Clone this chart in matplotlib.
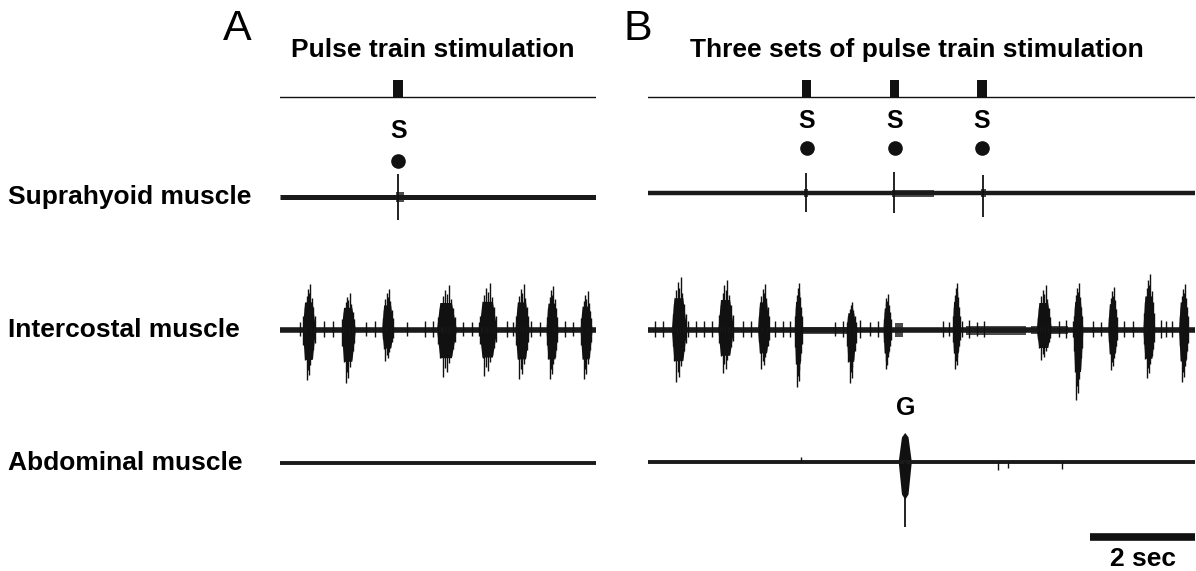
import matplotlib
matplotlib.use("Agg")
import matplotlib.pyplot as plt
from matplotlib.patches import Polygon, Rectangle

W, H = 1196, 571
PX_PER_SEC = 52.5
INK = "#111111"
plt.rcParams["font.family"] = ["Liberation Sans", "DejaVu Sans"]

# ---- data (times in s, amplitudes in px units) ----
# panel A
a_stim_t = [2.25]
a_supra_spike_t = [2.24]
a_supra_spike_up = [23]
a_supra_spike_dn = [23]
a_supra_noise = [(2.20, 2.36, 5)]
a_inter_burst_t = [0.56, 1.31, 2.06, 3.18, 3.97, 4.62, 5.19, 5.84]
a_inter_burst_up = [46, 37, 41, 45, 47, 46, 44, 39]
a_inter_burst_dn = [50, 53, 31, 47, 46, 49, 49, 49]
a_inter_burst_w = [0.25, 0.27, 0.23, 0.38, 0.34, 0.27, 0.23, 0.23]
a_heart_t = [0.38, 0.84, 1.00, 1.63, 1.80, 2.42, 2.76, 2.92, 3.49, 3.65,
             3.79, 4.32, 4.44, 4.79, 4.95, 5.43, 5.59]
a_heart_up = [8, 9, 9, 8, 9, 8, 9, 9, 8, 8, 8, 9, 8, 9, 8, 9, 8]

# panel B
b_stim_t = [3.02, 4.70, 6.36]
b_supra_spike_t = [3.00, 4.69, 6.38]
b_supra_spike_up = [20, 21, 18]
b_supra_spike_dn = [19, 20, 24]
b_supra_noise = [(2.97, 3.05, 4), (4.64, 5.45, 3.5), (6.34, 6.43, 4)]
b_inter_burst_t = [0.60, 1.49, 2.21, 2.87, 3.88, 4.56, 5.88, 7.55, 8.20, 8.86, 9.55, 10.21]
b_inter_burst_up = [53, 50, 46, 47, 28, 36, 47, 45, 47, 43, 56, 46]
b_inter_burst_dn = [52, 43, 39, 57, 53, 39, 39, 30, 70, 40, 48, 52]
b_inter_burst_w = [0.29, 0.30, 0.23, 0.15, 0.19, 0.15, 0.15, 0.29, 0.19, 0.19, 0.23, 0.19]
b_inter_noise = [(2.95, 3.80, 3.5), (4.70, 4.86, 7), (6.05, 7.20, 4.5), (7.30, 8.00, 4)]
b_heart_t = [0.13, 0.29, 0.77, 0.91, 1.07, 1.21, 1.81, 1.96, 2.42, 2.57, 2.70,
             3.56, 3.72, 4.04, 4.23, 4.39, 5.61, 5.73, 5.99, 6.11, 6.27, 6.40,
             7.83, 7.96, 8.09, 8.47, 8.62, 9.07, 9.23, 9.77, 9.87, 9.99]
b_heart_up = [9, 9, 9, 9, 9, 9, 9, 9, 9, 9, 9,
              8, 9, 10, 8, 9, 9, 8, 9, 10, 8, 9,
              9, 10, 9, 9, 8, 9, 9, 10, 9, 9]
b_abd_burst_t = [4.90]
b_abd_burst_up = [29]
b_abd_burst_dn = [65]
b_abd_burst_w = [0.25]
b_abd_tick_t = [2.91, 6.67, 6.86, 7.89]
b_abd_tick_amp = [5, -8, -6, -7]

trace_labels = ["Suprahyoid muscle", "Intercostal muscle", "Abdominal muscle"]

# ---- layout (pixel positions) ----
A_LEFT, A_RIGHT = 280, 596
B_LEFT, B_RIGHT = 648, 1195
STIM_Y = 96.7
A_SUPRA, B_SUPRA = 197, 193
INTER_Y = 330
A_ABD, B_ABD = 463, 462

# spike pattern inside a burst (relative position, relative heights)
PAT_X = [-0.45, -0.33, -0.22, -0.12, -0.02, 0.08, 0.18, 0.29, 0.4]
PAT_UP = [0.3, 0.5, 0.75, 0.9, 0.8, 1.0, 0.7, 0.5, 0.3]
PAT_DN = [0.3, 0.6, 1.0, 0.8, 0.9, 0.7, 0.55, 0.4, 0.25]


def fx(px):
    return px / W


def fy(py):
    return 1 - py / H


def burst(ax, base, t, w, up, dn, core=0.6):
    pts = [(t - w / 2, base), (t - w / 3, base - core * up), (t + w / 4, base - core * up),
           (t + w / 2, base), (t + w / 4, base + core * dn), (t - w / 3, base + core * dn)]
    ax.add_patch(Polygon(pts, closed=True, color=INK, lw=0))
    for px_, pu, pd in zip(PAT_X, PAT_UP, PAT_DN):
        ax.vlines(t + px_ * w, base - pu * up, base + pd * dn, color=INK, lw=1.0)


def trace(ax, base, dur, lw, noise=(), hearts=(), heart_up=()):
    ax.hlines(base, 0, dur, color="#1a1a1a", lw=lw)
    for t0, t1, h in noise:
        ax.fill_between([t0, t1], base - h, base + h, color=INK, alpha=0.75, lw=0)
    for t, a in zip(hearts, heart_up):
        ax.vlines(t, base - a, base + a * 0.8, color=INK, lw=1.0)


fig = plt.figure(figsize=(W / 100, H / 100), dpi=100)
axA = fig.add_axes([fx(A_LEFT), 0, fx(A_RIGHT - A_LEFT), 1])
axB = fig.add_axes([fx(B_LEFT), 0, fx(B_RIGHT - B_LEFT), 1])
durA = (A_RIGHT - A_LEFT) / PX_PER_SEC
durB = (B_RIGHT - B_LEFT) / PX_PER_SEC
for ax, dur in ((axA, durA), (axB, durB)):
    ax.set_xlim(0, dur)
    ax.set_ylim(H, 0)
    ax.axis("off")

# stimulation lines
for ax, dur, stims in ((axA, durA, a_stim_t), (axB, durB, b_stim_t)):
    ax.hlines(STIM_Y, -0.04, dur, color=INK, lw=1.0)
    for t in stims:
        ax.add_patch(Rectangle((t - 0.09, STIM_Y - 17), 0.18, 17, color=INK, lw=0))

# suprahyoid
trace(axA, A_SUPRA, durA, 3.6, a_supra_noise)
for t, u, d in zip(a_supra_spike_t, a_supra_spike_up, a_supra_spike_dn):
    axA.vlines(t, A_SUPRA - u, A_SUPRA + d, color=INK, lw=1.3)
trace(axB, B_SUPRA, durB, 3.2, b_supra_noise)
for t, u, d in zip(b_supra_spike_t, b_supra_spike_up, b_supra_spike_dn):
    axB.vlines(t, B_SUPRA - u, B_SUPRA + d, color=INK, lw=1.3)

# intercostal
trace(axA, INTER_Y, durA, 4.0, (), a_heart_t, a_heart_up)
for t, w, u, d in zip(a_inter_burst_t, a_inter_burst_w, a_inter_burst_up, a_inter_burst_dn):
    burst(axA, INTER_Y, t, w, u, d)
trace(axB, INTER_Y, durB, 4.0, b_inter_noise, b_heart_t, b_heart_up)
for t, w, u, d in zip(b_inter_burst_t, b_inter_burst_w, b_inter_burst_up, b_inter_burst_dn):
    burst(axB, INTER_Y, t, w, u, d)

# abdominal
trace(axA, A_ABD, durA, 2.8)
trace(axB, B_ABD, durB, 2.8)
for t, a in zip(b_abd_tick_t, b_abd_tick_amp):
    axB.vlines(t, B_ABD, B_ABD - a, color=INK, lw=1.0)
for t, w, u, d in zip(b_abd_burst_t, b_abd_burst_w, b_abd_burst_up, b_abd_burst_dn):
    pts = [(t - w / 2, B_ABD), (t - w / 4, B_ABD - u * 0.85), (t, B_ABD - u),
           (t + w / 4, B_ABD - u * 0.85), (t + w / 2, B_ABD),
           (t + w / 4, B_ABD + d * 0.5), (t, B_ABD + d * 0.58), (t - w / 4, B_ABD + d * 0.5)]
    axB.add_patch(Polygon(pts, closed=True, color=INK, lw=0))
    axB.vlines(t, B_ABD, B_ABD + d, color=INK, lw=1.3)

# S markers and dots
for ax, stims, sy, dy in ((axA, a_stim_t, 131, 161), (axB, b_stim_t, 121, 148)):
    for t in stims:
        ax.text(t, sy, "S", ha="center", va="center", fontsize=18, fontweight="bold")
        ax.plot(t, dy, "o", color=INK, ms=9.5)
axB.text(b_abd_burst_t[0], 408, "G", ha="center", va="center", fontsize=18, fontweight="bold")

# scale bar 2 sec
bar_end = durB
axB.hlines(537, bar_end - 2.0, bar_end, color=INK, lw=5.5)
axB.text(bar_end - 1.0, 559, "2 sec", ha="center", va="center", fontsize=19, fontweight="bold")

# titles and panel letters
fig.text(fx(237), fy(29), "A", ha="center", va="center", fontsize=31)
fig.text(fx(638), fy(29), "B", ha="center", va="center", fontsize=31)
fig.text(fx(433), fy(50), "Pulse train stimulation", ha="center", va="center",
         fontsize=19, fontweight="bold")
fig.text(fx(917), fy(50), "Three sets of pulse train stimulation", ha="center", va="center",
         fontsize=19, fontweight="bold")

for lab, y in zip(trace_labels, [A_SUPRA, INTER_Y, A_ABD]):
    fig.text(fx(8), fy(y), lab, ha="left", va="center", fontsize=19, fontweight="bold")

fig.savefig("out.png", dpi=100)
